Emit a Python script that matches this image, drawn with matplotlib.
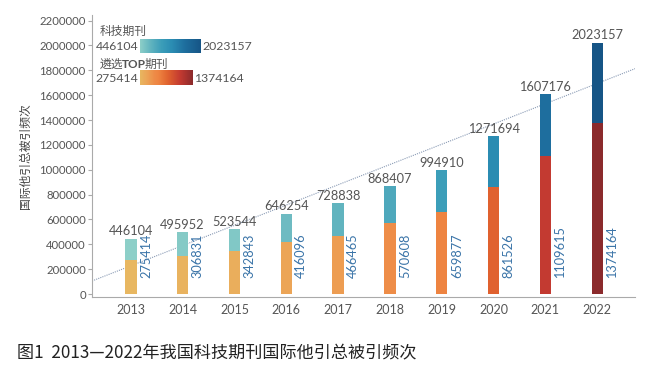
import numpy as np
import matplotlib.pyplot as plt
from matplotlib.colors import LinearSegmentedColormap, Normalize

plt.rcParams['font.family'] = ['Lato', 'Noto Sans CJK SC', 'DejaVu Sans']

# data
years = ['2013', '2014', '2015', '2016', '2017', '2018', '2019', '2020', '2021', '2022']
total = [446104, 495952, 523544, 646254, 728838, 868407, 994910, 1271694, 1607176, 2023157]
top = [275414, 306831, 342843, 416096, 466465, 570608, 659877, 861526, 1109615, 1374164]

blue_cmap = LinearSegmentedColormap.from_list('bt', [
    (0.0, '#8dcfc8'), (0.18, '#60b3bf'), (0.35, '#3c9eb9'),
    (0.52, '#2b8db3'), (0.74, '#1e6e9e'), (1.0, '#165586')])
red_cmap = LinearSegmentedColormap.from_list('rg', [
    (0.0, '#e8b761'), (0.13, '#eca457'), (0.27, '#ee8c48'), (0.35, '#ee8441'),
    (0.53, '#e0622f'), (0.76, '#c33a31'), (1.0, '#8b2a2c')])

norm_t = Normalize(min(total), max(total))
norm_p = Normalize(min(top), max(top))

fig = plt.figure(figsize=(6.54, 3.78), dpi=100)
ax = fig.add_axes([0.1407, 0.2143, 0.971 - 0.1407, 0.960 - 0.2143])

x = np.arange(len(years))
w = 0.22
ax.bar(x, total, w, color=blue_cmap(norm_t(total)), zorder=2)
ax.bar(x, top, w, color=red_cmap(norm_p(top)), zorder=3)

for i in range(len(years)):
    ax.annotate(str(total[i]), (x[i], total[i]), xytext=(0, 1), textcoords='offset points',
                ha='center', va='bottom', fontsize=9.2, color='#555555')
    ax.text(x[i] + 0.29, 125000, str(top[i]), rotation=90, ha='center', va='bottom',
            fontsize=9.2, color='#3a74a8', zorder=4)

# linear trend of totals
xlim = (-0.75, 9.73)
k, b = np.polyfit(x, total, 1)
xs = np.array(xlim)
ax.plot(xs, k * xs + b, ls=(0, (1, 1)), color='#8a9bb5', lw=0.8, zorder=1)

ax.set_xlim(*xlim)
ax.set_ylim(-24000, 2244000)
ax.set_xticks(x)
ax.set_xticklabels(years, fontsize=9, color='#555555')
ax.set_yticks(np.arange(0, 2200001, 200000))
ax.set_yticklabels([str(v) for v in range(0, 2200001, 200000)], fontsize=8.2, color='#555555')
ax.tick_params(axis='x', length=0, pad=5)
ax.tick_params(axis='y', length=3, color='#aaaaaa', pad=1.5)
for s in ['top', 'right']:
    ax.spines[s].set_visible(False)
for s in ['left', 'bottom']:
    ax.spines[s].set_color('#aaaaaa')
    ax.spines[s].set_linewidth(0.8)

ax.set_ylabel('国际他引总被引频次', fontsize=8.5, color='#444444', labelpad=6)

# colour legends
W, H = 654, 378
def fx(px):
    return px / W
def fy(py):
    return 1 - py / H

grad = np.linspace(0, 1, 256).reshape(1, -1)
lax1 = fig.add_axes([fx(140), fy(53), fx(61), 14 / H])
lax1.imshow(grad, aspect='auto', cmap=blue_cmap)
lax1.axis('off')
lax2 = fig.add_axes([fx(140), fy(85), fx(53), 15 / H])
lax2.imshow(grad, aspect='auto', cmap=red_cmap)
lax2.axis('off')

fig.text(fx(100), fy(31), '科技期刊', fontsize=8.5, color='#555555', va='center')
fig.text(fx(138), fy(46), str(min(total)), fontsize=8.8, color='#555555', va='center', ha='right')
fig.text(fx(202), fy(46), str(max(total)), fontsize=8.8, color='#555555', va='center')

# "遴选TOP期刊" with bold TOP, pieces placed one after another
fig.canvas.draw()
r = fig.canvas.get_renderer()
xpos = 100
for s, wt in [('遴选', 'normal'), ('TOP', 'bold'), ('期刊', 'normal')]:
    t = fig.text(fx(xpos), fy(64), s, fontsize=8.5, fontweight=wt, color='#555555', va='center')
    xpos += t.get_window_extent(r).width - 1.5

fig.text(fx(138), fy(78), str(min(top)), fontsize=8.8, color='#555555', va='center', ha='right')
fig.text(fx(194), fy(78), str(max(top)), fontsize=8.8, color='#555555', va='center')

fig.text(fx(17), fy(353), '图1  2013—2022年我国科技期刊国际他引总被引频次',
         fontsize=12.3, color='#222222', va='center',
         family=['Noto Sans CJK SC', 'DejaVu Sans'])

fig.savefig('out.png', dpi=100)
